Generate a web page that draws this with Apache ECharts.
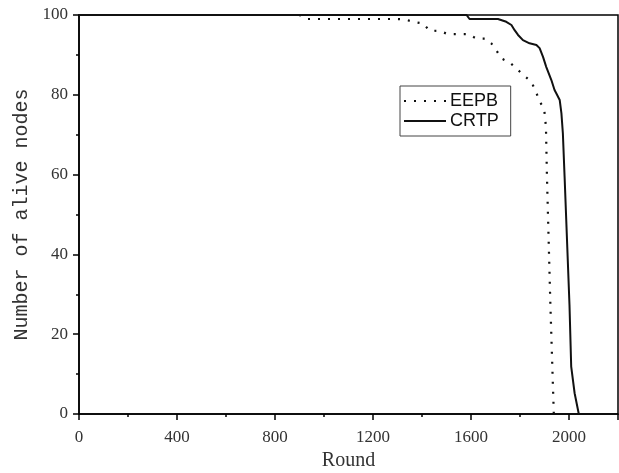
<!DOCTYPE html>
<html lang="en">
<head>
    <meta charset="utf-8">
    <title>Number of alive nodes</title>
    <script src="https://cdn.jsdelivr.net/npm/echarts@6/dist/echarts.min.js"></script>
    <style>
        html, body { margin: 0; padding: 0; background: #fff; }
        #chart { width: 619px; height: 473px; }
    </style>
</head>
<body>
    <div id="chart"></div>
    <script type="text/javascript">
        // rounds / alive nodes
        var eepbRounds = [0, 900, 930, 1290, 1330, 1362, 1404, 1431, 1472, 1506, 1588, 1622, 1660, 1683, 1703, 1724, 1758, 1785, 1819, 1846, 1865, 1880, 1898, 1903, 1906, 1910, 1924, 1938];
        var eepbAlive  = [100, 100, 99, 99, 98.9, 98.3, 97.9, 96.1, 96, 95.2, 95.2, 94.1, 94.1, 92.9, 91.2, 89.1, 88.1, 86.6, 84.7, 83.3, 80.8, 78.3, 76.6, 74.1, 71.6, 59.5, 27.3, 0];
        var crtpRounds = [0, 1582, 1594, 1710, 1717, 1744, 1765, 1778, 1792, 1812, 1839, 1867, 1880, 1894, 1907, 1928, 1941, 1948, 1962, 1969, 1975, 1982, 2002, 2009, 2023, 2040];
        var crtpAlive  = [100, 100, 99, 99, 98.9, 98.3, 97.5, 96.2, 95, 93.7, 92.9, 92.5, 91.7, 89.5, 87, 83.7, 81.2, 80.4, 78.7, 75.4, 70.3, 59.5, 27.3, 11.9, 5.2, 0];
        var xTicks = [0, 400, 800, 1200, 1600, 2000];
        var yTicks = [0, 20, 40, 60, 80, 100];

        function pairs(xs, ys) {
            return xs.map(function (x, i) { return [x, ys[i]]; });
        }

        var chart = echarts.init(document.getElementById('chart'));
        var serif = 'Liberation Serif';
        var option = {
            backgroundColor: '#fff',
            animation: false,
            color: ['#111', '#111'],
            grid: {
                left: 79, right: 1, top: 15, bottom: 59,
                outerBoundsMode: 'none',
                containLabel: false,
                show: true, borderColor: '#000', borderWidth: 1.5
            },
            legend: {
                orient: 'vertical',
                left: 400, top: 86,
                padding: [6, 12, 6, 3],
                itemGap: 2,
                itemWidth: 42, itemHeight: 14,
                borderColor: '#444', borderWidth: 1,
                itemStyle: { opacity: 0 },
                textStyle: { fontFamily: 'Liberation Sans', fontSize: 18, color: '#111', padding: [0, 0, 0, -1] },
                data: ['EEPB', 'CRTP']
            },
            xAxis: {
                type: 'value',
                min: 0, max: 2200, interval: 400,
                name: 'Round', nameLocation: 'middle', nameGap: 37,
                nameTextStyle: { fontFamily: serif, fontSize: 20, color: '#333' },
                axisLine: { lineStyle: { color: '#000', width: 1.5 } },
                axisTick: { length: 6, lineStyle: { color: '#000', width: 1.5 } },
                minorTick: { show: true, splitNumber: 2, length: 3, lineStyle: { color: '#000', width: 1.5 } },
                splitLine: { show: false },
                axisLabel: {
                    margin: 15, fontFamily: serif, fontSize: 17, color: '#333',
                    showMaxLabel: false,
                    formatter: function (v) { return xTicks.indexOf(v) >= 0 ? String(v) : ''; }
                }
            },
            yAxis: {
                type: 'value',
                min: 0, max: 100, interval: 20,
                name: 'Number of alive nodes', nameLocation: 'middle', nameGap: 46,
                nameTextStyle: { fontFamily: 'Liberation Mono', fontSize: 20, color: '#333' },
                axisLine: { show: true, lineStyle: { color: '#000', width: 1.5 } },
                axisTick: { show: true, length: 6, lineStyle: { color: '#000', width: 1.5 } },
                minorTick: { show: true, splitNumber: 2, length: 3, lineStyle: { color: '#000', width: 1.5 } },
                splitLine: { show: false },
                axisLabel: {
                    margin: 11, fontFamily: serif, fontSize: 17, color: '#333',
                    formatter: function (v) { return yTicks.indexOf(v) >= 0 ? String(v) : ''; }
                }
            },
            series: [
                {
                    name: 'EEPB',
                    type: 'line',
                    symbol: 'none',
                    clip: false,
                    itemStyle: { color: '#111' },
                    lineStyle: { color: '#111', width: 2.2, type: [2, 8] },
                    data: pairs(eepbRounds, eepbAlive)
                },
                {
                    name: 'CRTP',
                    type: 'line',
                    symbol: 'none',
                    clip: false,
                    itemStyle: { color: '#111' },
                    lineStyle: { color: '#111', width: 2 },
                    data: pairs(crtpRounds, crtpAlive)
                }
            ]
        };
        chart.setOption(option);
    </script>
</body>
</html>
